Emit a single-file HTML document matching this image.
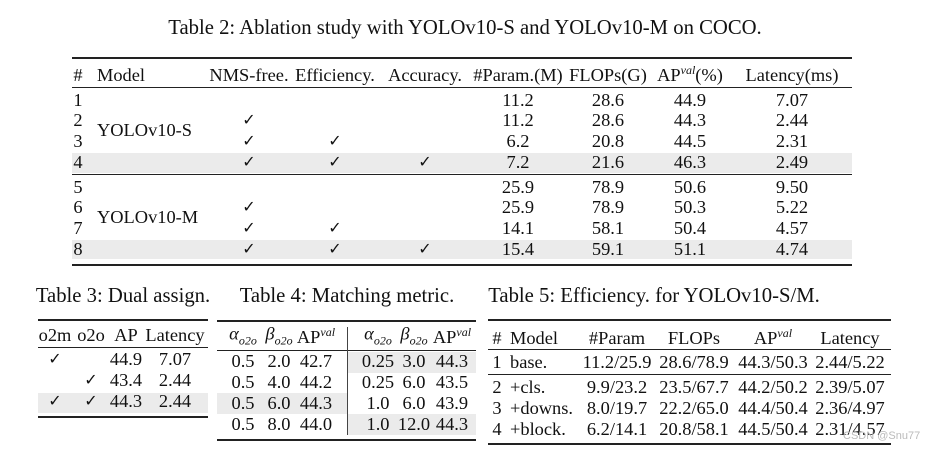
<!DOCTYPE html>
<html><head><meta charset="utf-8">
<style>
body{margin:0;width:930px;height:452px;background:#fff;position:relative;overflow:hidden;font-family:"Liberation Serif",serif;color:#111;}
.t{position:absolute;font-size:18.4px;line-height:20px;white-space:nowrap;transform:translate(-50%,-50%);}
.c{font-size:20.7px;}
.l{transform:translate(0,-50%);}
.r{position:absolute;height:1px;background:#222;}
.s{position:absolute;background:#ebebeb;}
sup{font-size:12px;font-style:italic;vertical-align:7px;line-height:0}
i sub{font-size:12px;}
.ck{font-size:16px;}
.wm{position:absolute;left:843px;top:430px;font-family:"Liberation Sans",sans-serif;font-size:11px;color:#bbb;}
</style></head><body>
<div id="root"></div>
<div class="wm">CSDN @Snu77</div>
<script>
const root=document.getElementById('root');
function shade(x,y,w,h,name){const d=document.createElement('div');d.className='s';d.style.cssText=`left:${x}px;top:${y}px;width:${w}px;height:${h}px`;


root.appendChild(d);}
function rule(x,y,w,h,name){const d=document.createElement('div');d.className='r';d.style.cssText=`left:${x}px;top:${y}px;width:${w}px;height:${h||1}px`;


root.appendChild(d);}
function t(x,y,html,name,left,cls){const d=document.createElement('div');d.className='t'+(left?' l':'')+(cls?' '+cls:'');d.style.left=x+'px';d.style.top=y+'px';d.innerHTML=html;


root.appendChild(d);}
const CK='<span class="ck">✓</span>';
const APV='AP<sup>val</sup>';
// Table 2
t(465,28,'Table 2: Ablation study with YOLOv10-S and YOLOv10-M on COCO.','table2-caption',0,'c');
shade(72,153,780,20,'t2-row4-shade');shade(72,240,780,19,'t2-row8-shade');
rule(72,57,780,2,'t2-top-rule');rule(72,87,780,1,'t2-header-rule');rule(72,174,780,1,'t2-mid-rule');rule(72,264,780,2,'t2-bottom-rule');
const t2cols=[249,335,425,518,608,690,792];
t(78,75,'#','t2-hdr-num');t(97,75,'Model','t2-hdr-model',1);
['NMS-free.','Efficiency.','Accuracy.','#Param.(M)','FLOPs(G)','AP<sup>val</sup>(%)','Latency(ms)'].forEach((h,i)=>t(t2cols[i],75,h,'t2-header'));
const t2rows=[['','','','11.2','28.6','44.9','7.07'],[CK,'','','11.2','28.6','44.3','2.44'],[CK,CK,'','6.2','20.8','44.5','2.31'],[CK,CK,CK,'7.2','21.6','46.3','2.49'],
['','','','25.9','78.9','50.6','9.50'],[CK,'','','25.9','78.9','50.3','5.22'],[CK,CK,'','14.1','58.1','50.4','4.57'],[CK,CK,CK,'15.4','59.1','51.1','4.74']];
const t2y=[100,120,141,162,187,207,228,249];
t2rows.forEach((r,i)=>{t(78,t2y[i],String(i+1),'t2-row-num');r.forEach((v,j)=>{if(v)t(t2cols[j],t2y[i],v,'t2-cell');});});
t(97,130,'YOLOv10-S','t2-model-s',1);t(97,217,'YOLOv10-M','t2-model-m',1);
// Table 3
t(123,296,'Table 3: Dual assign.','table3-caption',0,'c');
shade(38,393,170,20,'t3-row3-shade');
rule(38,319,170,2,'t3-top-rule');rule(38,347,170,1,'t3-header-rule');rule(38,416,170,2,'t3-bottom-rule');
const t3cols=[55,91,126,175];
['o2m','o2o','AP','Latency'].forEach((h,i)=>t(t3cols[i],335,h,'t3-header'));
const t3rows=[[CK,'','44.9','7.07'],['',CK,'43.4','2.44'],[CK,CK,'44.3','2.44']];
[359,380,401].forEach((y,i)=>t3rows[i].forEach((v,j)=>{if(v)t(t3cols[j],y,v,'t3-cell');}));
// Table 4
t(347,296,'Table 4: Matching metric.','table4-caption',0,'c');
shade(347,352,129,21,'t4-shade');shade(217,393,130,21,'t4-shade');shade(347,414,129,21,'t4-shade');
rule(217,320,259,2,'t4-top-rule');rule(217,350,259,1,'t4-header-rule');rule(217,439,259,2,'t4-bottom-rule');
const v=document.createElement('div');v.style.cssText='position:absolute;left:347px;top:327px;width:1px;height:108px;background:#444';


root.appendChild(v);
const A='<i>α<sub>o2o</sub></i>',B='<i>β<sub>o2o</sub></i>';
const t4cols=[243,279,316,378,414,452];
[A,B,APV,A,B,APV].forEach((h,i)=>t(t4cols[i],337,h,'t4-header'));
const t4rows=[['0.5','2.0','42.7','0.25','3.0','44.3'],['0.5','4.0','44.2','0.25','6.0','43.5'],['0.5','6.0','44.3','1.0','6.0','43.9'],['0.5','8.0','44.0','1.0','12.0','44.3']];
[361,382,403,424].forEach((y,i)=>t4rows[i].forEach((v,j)=>t(t4cols[j],y,v,'t4-cell')));
// Table 5
t(654,296,'Table 5: Efficiency. for YOLOv10-S/M.','table5-caption',0,'c');
rule(488,319,403,2,'t5-top-rule');rule(488,349,403,1,'t5-header-rule');rule(488,374,403,1,'t5-mid-rule');rule(488,443,403,2,'t5-bottom-rule');
const t5cols=[617,694,773,850];
t(497,338,'#','t5-hdr-num');t(510,338,'Model','t5-hdr-model',1);
['#Param','FLOPs',APV,'Latency'].forEach((h,i)=>t(t5cols[i],338,h,'t5-header'));
const t5names=['base.','+cls.','+downs.','+block.'];
const t5rows=[['11.2/25.9','28.6/78.9','44.3/50.3','2.44/5.22'],['9.9/23.2','23.5/67.7','44.2/50.2','2.39/5.07'],['8.0/19.7','22.2/65.0','44.4/50.4','2.36/4.97'],['6.2/14.1','20.8/58.1','44.5/50.4','2.31/4.57']];
[362,387,408,429].forEach((y,i)=>{t(497,y,String(i+1),'t5-row-num');t(510,y,t5names[i],'t5-model',1);t5rows[i].forEach((v,j)=>t(t5cols[j],y,v,'t5-cell'));});
</script>
</body></html>
